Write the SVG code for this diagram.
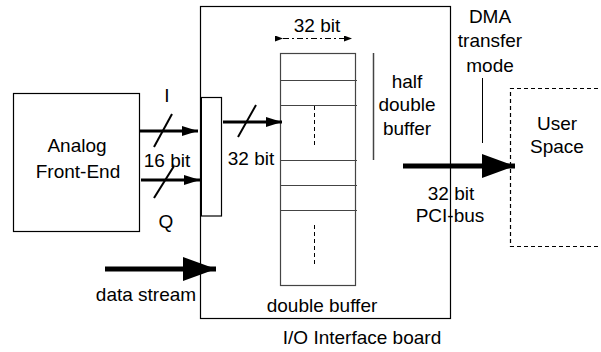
<svg xmlns="http://www.w3.org/2000/svg" width="601" height="352" viewBox="0 0 601 352">
<style>
text{font-family:"Liberation Sans",Arial,sans-serif;font-size:19px;fill:#000;text-anchor:middle}
.box{fill:none;stroke:#000;stroke-width:1.2}
.buf{stroke:#444;stroke-width:1.2;fill:none}
.bus{stroke:#000;stroke-width:3;fill:none}
.thick{stroke:#000;stroke-width:5;fill:none}
.dash{stroke:#000;stroke-width:1.2;stroke-dasharray:4,3;fill:none}
</style>
<defs>
<marker id="ah" markerUnits="userSpaceOnUse" markerWidth="17" markerHeight="10" refX="16" refY="5" orient="auto"><path d="M0,0 L16,5 L0,10 Z" fill="#000"/></marker>
<marker id="big" markerUnits="userSpaceOnUse" markerWidth="34" markerHeight="24" refX="33" refY="12" orient="auto"><path d="M0,0 L33,12 L0,24 Z" fill="#000"/></marker>
<marker id="sm" markerUnits="userSpaceOnUse" markerWidth="9" markerHeight="6" refX="8" refY="3" orient="auto"><path d="M0,0 L8,3 L0,6 Z" fill="#000"/></marker>
</defs>
<g id="board">
<rect class="box" x="200.5" y="6.5" width="250" height="312"/>
<text x="362" y="344">I/O Interface board</text>
</g>
<g id="analog">
<rect class="box" x="13.5" y="93.5" width="126" height="138"/>
<text x="77" y="152">Analog</text>
<text x="78" y="178">Front-End</text>
</g>
<g id="mux">
<rect class="box" x="201" y="97.5" width="20.5" height="118.5"/>
<line x1="201" y1="97" x2="201" y2="216" stroke="#000" stroke-width="2"/>
</g>
<g id="buffer">
<rect class="buf" x="280.5" y="53.5" width="75" height="232"/>
<line class="buf" x1="280" y1="80.5" x2="357" y2="80.5"/>
<line class="buf" x1="280" y1="105.5" x2="357" y2="105.5"/>
<line class="buf" x1="280" y1="160.5" x2="357" y2="160.5"/>
<line class="buf" x1="280" y1="185.5" x2="357" y2="185.5"/>
<line class="buf" x1="280" y1="210.5" x2="357" y2="210.5"/>
<line x1="314.5" y1="106" x2="314.5" y2="145" stroke="#000" stroke-width="1" stroke-dasharray="4,3"/>
<line x1="314.5" y1="225" x2="314.5" y2="264" stroke="#000" stroke-width="1" stroke-dasharray="4,3"/>
<line x1="283" y1="38.5" x2="352" y2="38.5" stroke="#000" stroke-width="1.2" stroke-dasharray="6,3,2,3" marker-start="url(#sm)" marker-end="url(#sm)"/>
<text x="317" y="32">32 bit</text>
<line x1="373.5" y1="53" x2="373.5" y2="160" stroke="#444" stroke-width="1.5"/>
<text x="407" y="88">half</text>
<text x="407" y="111">double</text>
<text x="407" y="135">buffer</text>
<text x="322" y="312">double buffer</text>
</g>
<g id="user">
<path class="dash" d="M605,88.5 H510.5 V246.5 H605"/>
<text x="557" y="130">User</text>
<text x="557" y="153">Space</text>
</g>
<g id="connectors">
<line class="bus" x1="139" y1="131" x2="198" y2="131" marker-end="url(#ah)"/>
<line class="bus" x1="141" y1="180" x2="200" y2="180" marker-end="url(#ah)"/>
<line x1="154" y1="147" x2="172" y2="114" stroke="#000" stroke-width="2"/>
<line x1="154" y1="198" x2="174" y2="166" stroke="#000" stroke-width="2"/>
<line class="bus" x1="223" y1="122" x2="282" y2="122" marker-end="url(#ah)"/>
<line x1="238" y1="137" x2="256" y2="105" stroke="#000" stroke-width="2"/>
<line class="thick" x1="403" y1="166" x2="515" y2="166" marker-end="url(#big)"/>
<line class="thick" x1="105" y1="269" x2="216" y2="269" marker-end="url(#big)"/>
<line x1="482.5" y1="78" x2="482.5" y2="143" stroke="#000" stroke-width="1"/>
</g>
<g id="labels">
<text x="167" y="102">I</text>
<text x="167" y="167">16 bit</text>
<text x="166" y="228">Q</text>
<text x="251" y="165">32 bit</text>
<text x="451" y="200">32 bit</text>
<text x="450" y="222">PCI-bus</text>
<text x="490" y="23">DMA</text>
<text x="490" y="47">transfer</text>
<text x="490" y="72">mode</text>
<text x="146" y="301">data stream</text>
</g>
</svg>
